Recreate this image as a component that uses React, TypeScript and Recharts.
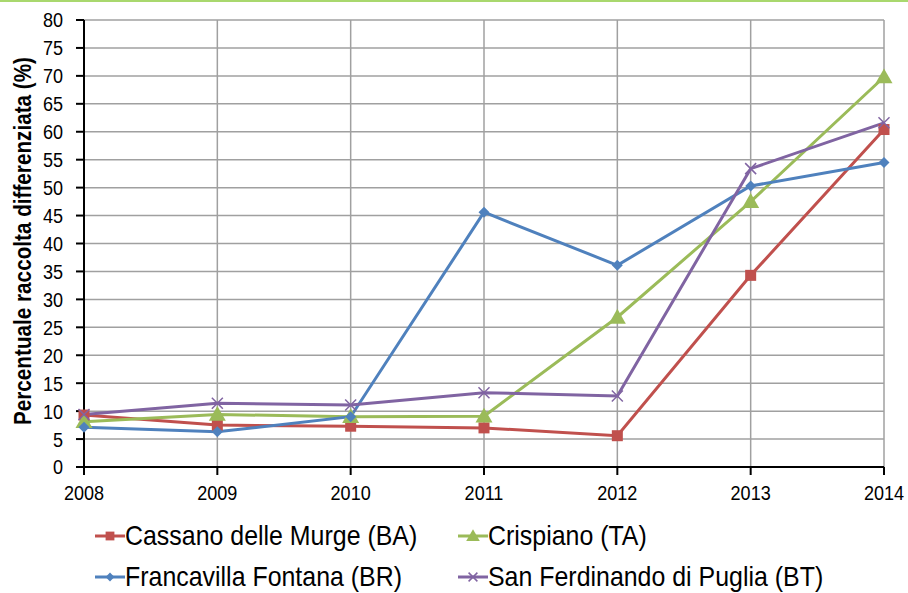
import React from 'react';
import { LineChart, Line, XAxis, YAxis, CartesianGrid } from 'recharts';

const years = ['2008', '2009', '2010', '2011', '2012', '2013', '2014'];
const cassano = [9.3, 7.5, 7.3, 7.0, 5.6, 34.3, 60.4];
const crispiano = [8.1, 9.4, 9.0, 9.1, 26.8, 47.5, 69.8];
const francavilla = [7.1, 6.3, 9.0, 45.6, 36.1, 50.3, 54.5];
const sanFerdinando = [9.4, 11.4, 11.1, 13.3, 12.7, 53.4, 61.6];
const yTicks = [0, 5, 10, 15, 20, 25, 30, 35, 40, 45, 50, 55, 60, 65, 70, 75, 80];

const series = [
  { key: 'cassano', name: 'Cassano delle Murge (BA)', color: '#C0504D', marker: 'square', values: cassano },
  { key: 'crispiano', name: 'Crispiano (TA)', color: '#9BBB59', marker: 'triangle', values: crispiano },
  { key: 'francavilla', name: 'Francavilla Fontana (BR)', color: '#4F81BD', marker: 'diamond', values: francavilla },
  { key: 'sanFerdinando', name: 'San Ferdinando di Puglia (BT)', color: '#8064A2', marker: 'cross', values: sanFerdinando },
];

const data = years.map((year, i) => {
  const row: any = { year };
  series.forEach((s) => {
    row[s.key] = s.values[i];
  });
  return row;
});

const FONT = '"Liberation Sans", Arial, sans-serif';
// the reference text looks horizontally squeezed, so squash the glyphs a bit
const SQUEEZE = 0.86;

const Marker = ({ type, cx, cy, color, scale = 1 }: any) => {
  if (cx == null || cy == null) return null;
  if (type === 'square') {
    const s = 5.5 * scale;
    return <rect x={cx - s} y={cy - s} width={s * 2} height={s * 2} fill={color} />;
  }
  if (type === 'triangle') {
    const s = 8.5 * scale;
    return (
      <polygon
        points={`${cx},${cy - s} ${cx + s},${cy + s * 0.75} ${cx - s},${cy + s * 0.75}`}
        fill={color}
      />
    );
  }
  if (type === 'diamond') {
    const s = 5.5 * scale;
    return <polygon points={`${cx},${cy - s} ${cx + s},${cy} ${cx},${cy + s} ${cx - s},${cy}`} fill={color} />;
  }
  const s = 5.5 * scale;
  return (
    <g stroke={color} strokeWidth={1.5}>
      <line x1={cx - s} y1={cy - s} x2={cx + s} y2={cy + s} />
      <line x1={cx - s} y1={cy + s} x2={cx + s} y2={cy - s} />
    </g>
  );
};

const YTick = ({ x, y, payload }: any) => (
  <text
    transform={`translate(${x},${y}) scale(${SQUEEZE},1)`}
    textAnchor="end"
    dy="0.355em"
    fontSize={21}
    fontFamily={FONT}
    fill="#000"
  >
    {payload.value}
  </text>
);

const XTick = ({ x, y, payload }: any) => (
  <text
    transform={`translate(${x},${y + 10}) scale(${SQUEEZE},1)`}
    textAnchor="middle"
    dy="0.355em"
    fontSize={21}
    fontFamily={FONT}
    fill="#000"
  >
    {payload.value}
  </text>
);

const YLabel = () => (
  <text
    transform="translate(23,241) rotate(-90) scale(0.9,1)"
    textAnchor="middle"
    dominantBaseline="central"
    fontSize={23}
    fontWeight="bold"
    fontFamily={FONT}
    fill="#000"
  >
    Percentuale raccolta differenziata (%)
  </text>
);

const ChartLegend = () => {
  const cols = [95, 458];
  const rows = [536, 577];
  return (
    <>
      {series.map((s, i) => (
        <div
          key={s.key}
          style={{
            position: 'absolute',
            left: cols[i % 2],
            top: rows[Math.floor(i / 2)] - 17,
            display: 'flex',
            alignItems: 'center',
            height: 34,
          }}
        >
          <svg width={30} height={20}>
            <line x1={0} y1={10} x2={30} y2={10} stroke={s.color} strokeWidth={3} />
            <Marker type={s.marker} cx={15} cy={10} color={s.color} scale={0.8} />
          </svg>
          <span
            style={{
              fontFamily: FONT,
              fontSize: 28,
              color: '#000',
              whiteSpace: 'nowrap',
              transform: 'scaleX(0.89)',
              transformOrigin: 'left center',
              display: 'inline-block',
            }}
          >
            {s.name}
          </span>
        </div>
      ))}
    </>
  );
};

export default function App() {
  return (
    <div style={{ position: 'absolute', left: 0, top: 0, width: 908, height: 593, background: '#fff', overflow: 'hidden' }}>
      <div style={{ position: 'absolute', left: 0, top: 0, width: 908, height: 2, background: '#A9D86E' }} />
      <LineChart width={908} height={593} data={data} margin={{ top: 20, right: 24, left: 30, bottom: 96 }}>
        <CartesianGrid stroke="#A0A0A0" strokeWidth={1.5} />
        <XAxis
          dataKey="year"
          axisLine={{ stroke: '#000', strokeWidth: 2 }}
          tickLine={{ stroke: '#000', strokeWidth: 2 }}
          tickSize={8}
          tickMargin={8}
          tick={<XTick />}
          height={30}
          interval={0}
        />
        <YAxis
          domain={[0, 80]}
          ticks={yTicks}
          interval={0}
          axisLine={{ stroke: '#000', strokeWidth: 2 }}
          tickLine={{ stroke: '#000', strokeWidth: 2 }}
          tickSize={8}
          tickMargin={13}
          width={54}
          tick={<YTick />}
        />
        {series.map((s) => (
          <Line
            key={s.key}
            type="linear"
            dataKey={s.key}
            name={s.name}
            stroke={s.color}
            strokeWidth={3}
            isAnimationActive={false}
            dot={(props: any) => (
              <Marker key={`${s.key}-${props.index}`} type={s.marker} cx={props.cx} cy={props.cy} color={s.color} />
            )}
            activeDot={false}
          />
        ))}
        <YLabel />
      </LineChart>
      <ChartLegend />
    </div>
  );
}
